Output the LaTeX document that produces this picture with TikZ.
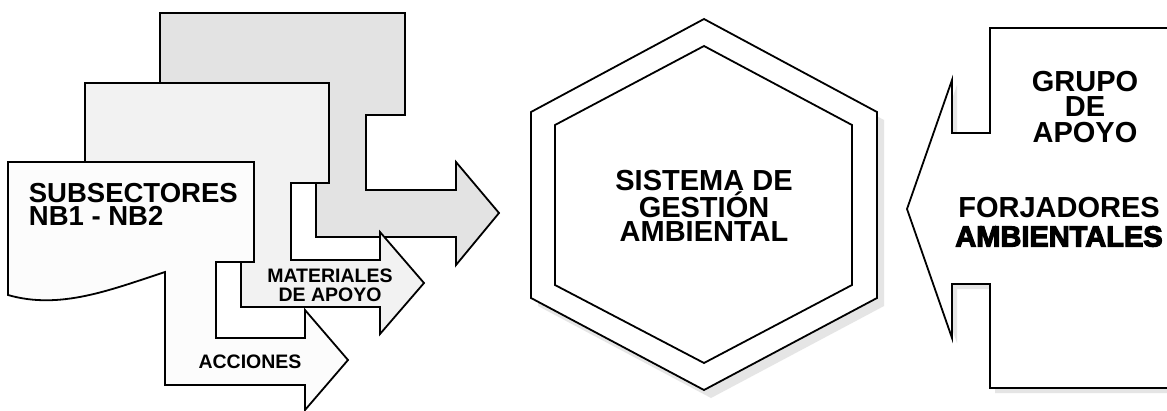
\documentclass[tikz,border=0pt]{standalone}
\usepackage{fontspec}
\setmainfont{Liberation Sans}
\newfontfamily\heavyfont{Liberation Sans Bold}[FakeBold=4]
\usetikzlibrary{positioning}
\newcommand{\shapeBack}[1]
{   \filldraw[#1] (160,13) -- (405,13) -- (405,115) -- (366,115) -- (366,190) -- (456,190) -- (456,162) -- (499,213) -- (456,265) -- (456,237) -- (316,237) -- (316,150) -- (160,150) -- cycle;
}
\newcommand{\shapeMid}[1]
{   \filldraw[#1] (85,83) -- (329,83) -- (329,183) -- (291,183) -- (291,260) -- (380,260) -- (380,232) -- (424,283) -- (380,334) -- (380,307) -- (241,307) -- (241,170) -- (85,170) -- cycle;
}
\newcommand{\shapeFront}[1]
{   \filldraw[#1] (8,162) -- (254,162) -- (254,262) -- (216,262) -- (216,338) -- (305,338) -- (305,310) -- (348,360) -- (305,410) -- (305,385) -- (165,385) -- (165,272) .. controls (110,290) and (60,310) .. (8,295) -- cycle;
}
\newcommand{\hexOuter}[1]
{   \filldraw[#1] (704,19) -- (877,112) -- (877,298) -- (704,390) -- (531,298) -- (531,112) -- cycle;
}
\newcommand{\hexInner}[1]
{   \draw[#1] (704,46) -- (852,125) -- (852,285) -- (704,363) -- (555,285) -- (555,125) -- cycle;
}
\newcommand{\shapeGroup}[1]
{   \filldraw[#1] (990,28) -- (1180,28) -- (1180,388) -- (990,388) -- (990,284) -- (952,284) -- (952,338) -- (907,209) -- (952,80) -- (952,133) -- (990,133) -- cycle;
}
\newcommand{\backcolor}{black!11}
\newcommand{\midcolor}{black!5}
\newcommand{\frontcolor}{black!1}
\newcommand{\shadowcolor}{black!10}

\begin{document}
\begin{tikzpicture}[x=1pt,y=-1pt,line width=1.8pt,
   big/.style={font=\fontsize{29}{24}\selectfont\bfseries,inner sep=0pt,align=center},
   small/.style={font=\fontsize{19.5}{19}\selectfont\bfseries,inner sep=0pt,align=center}]

   \clip (0,0) rectangle (1167,410);
   \fill[white] (0,0) rectangle (1167,410);

 \shapeBack{fill=\backcolor} \shapeMid{fill=\midcolor} \shapeFront{fill=\frontcolor}
   \begin{scope}[shift={(7,8)}]
   \hexOuter{draw=none,fill=\shadowcolor}
   \end{scope}
   \begin{scope}[shift={(5,5)}]
   \shapeGroup{draw=none,fill=\shadowcolor}
   \end{scope}
 \hexOuter{fill=white} \hexInner{} \shapeGroup{fill=white}

   \draw (28,182) node[big,font=\fontsize{27.5}{23.5}\selectfont\bfseries,anchor=north west,align=left] (subsect) {SUBSECTORES\\NB1 - NB2};
   \draw (330,285.5) node[small] (materiales) {MATERIALES\\DE APOYO};
   \draw (250,361.5) node[small] (acciones) {ACCIONES};
   \draw (704,206) node[big,font=\fontsize{29}{23.5}\selectfont\bfseries] (sistema) {SISTEMA DE\\GESTIÓN\\AMBIENTAL};
   \draw (1085,107) node[big,font=\fontsize{29}{25.5}\selectfont\bfseries] (grupo) {GRUPO\\DE\\APOYO};
   \draw (1059,222) node[big,font=\fontsize{29}{29}\selectfont\bfseries] (forjadores) {FORJADORES\\{\heavyfont AMBIENTALES}};

 \end{tikzpicture}
\end{document}
